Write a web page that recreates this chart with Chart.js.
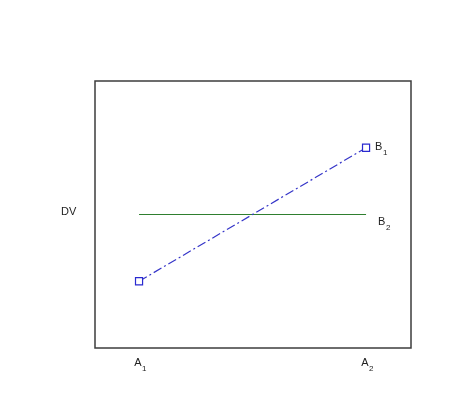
<!DOCTYPE html>
<html>
<head>
<meta charset="utf-8">
<script src="https://cdn.jsdelivr.net/npm/chart.js@4.4.1/dist/chart.umd.min.js"></script>
<style>
  html, body { margin: 0; padding: 0; background: #fff; }
  #wrap { width: 474px; height: 402px; }
</style>
</head>
<body>
<div id="wrap"><canvas id="chart" width="474" height="402"></canvas></div>
<script>
// levels of factor A (x positions 1, 2)
var aLevels = [1, 2];
var aLabels = [['A', '1'], ['A', '2']];
// DV means for each level of B
var b1Values = [2.5, 7.5];
var b2Values = [5, 5];
var seriesLabels = [['B', '1'], ['B', '2']];
var yLabel = 'DV';

function toPoints(vals) {
  return aLevels.map(function (a, i) { return { x: a, y: vals[i] }; });
}

// draw letter with a small subscript digit
function subText(ctx, parts, x, y, align) {
  ctx.font = '11px "Liberation Sans", Arial, sans-serif';
  var w1 = ctx.measureText(parts[0]).width;
  ctx.font = '8px "Liberation Sans", Arial, sans-serif';
  var w2 = ctx.measureText(parts[1]).width;
  var left = align === 'center' ? x - (w1 + w2) / 2 : x;
  ctx.textAlign = 'left';
  ctx.textBaseline = 'middle';
  ctx.font = '11px "Liberation Sans", Arial, sans-serif';
  ctx.fillText(parts[0], left, y);
  ctx.font = '8px "Liberation Sans", Arial, sans-serif';
  ctx.fillText(parts[1], left + w1 + 0.5, y + 6);
}

const framePlugin = {
  id: 'frame',
  afterDraw(chart) {
    const ctx = chart.ctx;
    const a = chart.chartArea;
    const xs = chart.scales.x, ys = chart.scales.y;
    ctx.save();
    ctx.strokeStyle = '#3c3c3c';
    ctx.lineWidth = 1.5;
    ctx.strokeRect(a.left, a.top, a.right - a.left, a.bottom - a.top);
    ctx.fillStyle = '#222';
    // x labels
    aLevels.forEach(function (v, i) {
      subText(ctx, aLabels[i], xs.getPixelForValue(v) + 1, a.bottom + 15, 'center');
    });
    // series labels at right end
    var last = aLevels.length - 1;
    subText(ctx, seriesLabels[0], xs.getPixelForValue(aLevels[last]) + 9, ys.getPixelForValue(b1Values[last]) - 1, 'left');
    subText(ctx, seriesLabels[1], xs.getPixelForValue(aLevels[last]) + 12, ys.getPixelForValue(b2Values[last]) + 7, 'left');
    // y label
    ctx.font = '11px "Liberation Sans", Arial, sans-serif';
    ctx.textAlign = 'left';
    ctx.textBaseline = 'middle';
    ctx.fillText(yLabel, 61, ys.getPixelForValue(5.1));
    ctx.restore();
  }
};

new Chart(document.getElementById('chart').getContext('2d'), {
  type: 'scatter',
  data: {
    datasets: [{
      label: 'B1',
      data: toPoints(b1Values),
      showLine: true,
      borderColor: '#3535c8',
      borderWidth: 1.2,
      borderDash: [9, 3, 2, 3],
      pointStyle: 'rect',
      pointRadius: 5,
      pointBorderWidth: 1.2,
      pointBorderColor: '#2a2ad0',
      pointBackgroundColor: 'rgba(255,255,255,1)'
    }, {
      label: 'B2',
      data: toPoints(b2Values),
      showLine: true,
      borderColor: '#2f7f2f',
      borderWidth: 1.2,
      pointRadius: 0
    }]
  },
  options: {
    responsive: false,
    animation: false,
    layout: { padding: { left: 95, top: 81, right: 63, bottom: 54 } },
    plugins: { legend: { display: false }, tooltip: { enabled: false } },
    scales: {
      x: { type: 'linear', min: 0.806, max: 2.198, display: false },
      y: { type: 'linear', min: 0, max: 10, display: false }
    }
  },
  plugins: [framePlugin]
});
</script>
</body>
</html>
